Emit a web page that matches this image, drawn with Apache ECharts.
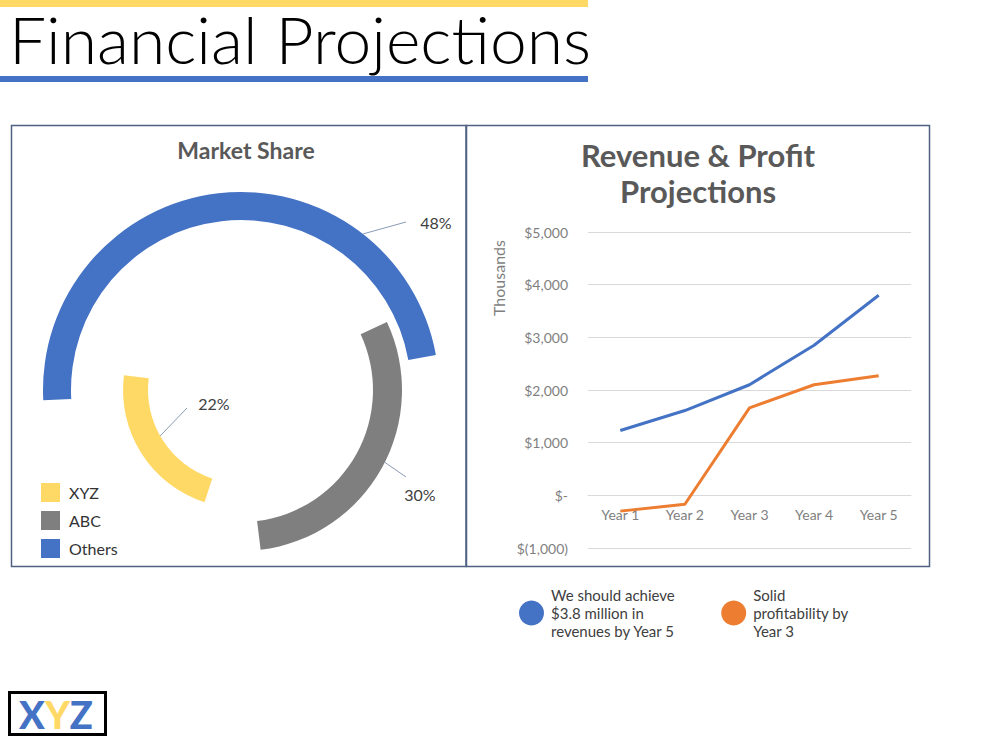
<!DOCTYPE html>
<html>
<head>
<meta charset="utf-8">
<title>Financial Projections</title>
<script src="https://cdn.jsdelivr.net/npm/echarts@6/dist/echarts.min.js"></script>
<style>
  html, body { margin: 0; padding: 0; background: #fff; }
  #main { width: 1000px; height: 750px; }
</style>
</head>
<body>
<div id="main"></div>
<script>
// market share, percent
const shareNames = ['XYZ', 'ABC', 'Others'];
const shareValues = [22, 30, 48];

// revenue & profit, $ thousands
const years = ['Year 1', 'Year 2', 'Year 3', 'Year 4', 'Year 5'];
const revenue = [1230, 1610, 2100, 2850, 3800];
const profit = [-300, -170, 1660, 2100, 2270];
const lineNames = ['Revenue', 'Profit'];
const lineNotes = [
  'We should achieve\n$3.8 million in\nrevenues by Year 5',
  'Solid\nprofitability by\nYear 3'
];
const yMin = -1000, yMax = 5000, yStep = 1000;

const shareColors = ['#FFD966', '#7F7F7F', '#4472C4'];
const lineColors = ['#4472C4', '#ED7D31'];
const font = 'Lato, "Open Sans", sans-serif';

// every share gets its own ring around the same centre
// pointAt: angle (deg) and edge radius where the leader line touches the ring
const pieCenter = [241, 390];
const rings = [
  {radius: [93, 118], startAngle: 252, labelAt: [214, 403], pointAt: [209.6, 93], lineEnd: [187, 408]},
  {radius: [132, 161], startAngle: 25, labelAt: [420, 494], pointAt: [-26.7, 161], lineEnd: [406, 477]},
  {radius: [170, 198], startAngle: 183, labelAt: [436, 222], pointAt: [52, 198], lineEnd: [406, 222]}
];

function money(v) {
  if (v === 0) return '$-';
  const s = Math.abs(v).toLocaleString('en-US');
  return v < 0 ? '$(' + s + ')' : '$' + s;
}

function ringLabel(ring) {
  const a = ring.pointAt[0] * Math.PI / 180;
  const p0 = [pieCenter[0] + ring.pointAt[1] * Math.cos(a), pieCenter[1] - ring.pointAt[1] * Math.sin(a)];
  return () => ({
    x: ring.labelAt[0], y: ring.labelAt[1], align: 'center', verticalAlign: 'middle',
    labelLinePoints: [p0, ring.lineEnd, ring.lineEnd]
  });
}

const pieSeries = shareNames.map((name, i) => ({
  type: 'pie',
  center: pieCenter,
  radius: rings[i].radius,
  startAngle: rings[i].startAngle,
  silent: true,
  avoidLabelOverlap: false,
  label: {formatter: '{c}%', fontSize: 16, color: '#404040', fontFamily: font},
  labelLine: {show: true, lineStyle: {color: '#8a9bb5', width: 1}},
  labelLayout: ringLabel(rings[i]),
  data: [
    {name: name, value: shareValues[i], itemStyle: {color: shareColors[i]}},
    {name: '', value: 100 - shareValues[i], itemStyle: {color: 'transparent'},
      label: {show: false}, labelLine: {show: false}}
  ]
}));

const lineSeries = [revenue, profit].map((vals, i) => ({
  name: lineNames[i],
  type: 'line',
  data: vals,
  symbol: 'none',
  silent: true,
  z: 3,
  lineStyle: {width: 3, color: lineColors[i]},
  itemStyle: {color: lineColors[i]}
}));

const gridTop = 232, gridBottom = 202, gridHeight = 750 - gridTop - gridBottom;

const chart = echarts.init(document.getElementById('main'), null, {renderer: 'svg'});

chart.setOption({
  animation: false,
  title: [
    {text: 'Financial Projections', left: 9, top: 4, padding: 0,
      textStyle: {fontFamily: font, fontWeight: 300, fontSize: 66, lineHeight: 68, color: '#000'}},
    {text: 'Market Share', left: 246, top: 138, textAlign: 'center', padding: 0,
      textStyle: {fontFamily: font, fontWeight: 'bold', fontSize: 23, color: '#595959'}},
    {text: 'Revenue & Profit\nProjections', left: 698, top: 137, textAlign: 'center', padding: 0,
      textStyle: {fontFamily: font, fontWeight: 'bold', fontSize: 31, lineHeight: 36, color: '#595959'}}
  ],
  legend: [
    {
      data: shareNames, orient: 'vertical', left: 36, top: 478,
      icon: 'rect', itemWidth: 19, itemHeight: 19, itemGap: 9,
      selectedMode: false,
      textStyle: {fontFamily: font, fontSize: 16, color: '#333', padding: [0, 0, 0, 4]}
    },
    {
      data: lineNames, orient: 'horizontal', left: 514, top: 581,
      icon: 'circle', itemWidth: 25, itemHeight: 25, itemGap: 46,
      selectedMode: false,
      formatter: name => lineNotes[lineNames.indexOf(name)],
      textStyle: {fontFamily: font, fontSize: 15, lineHeight: 18, color: '#404040', padding: [0, 0, 0, 2]}
    }
  ],
  grid: {left: 588, right: 89, top: gridTop, bottom: gridBottom},
  xAxis: {
    type: 'category', data: years,
    // sits on the $0 line, one step above the bottom
    offset: -gridHeight * (0 - yMin) / (yMax - yMin),
    axisLine: {onZero: false, lineStyle: {color: '#d9d9d9'}},
    axisTick: {show: false},
    axisLabel: {fontFamily: font, fontSize: 14, color: '#7f7f7f', margin: 12}
  },
  yAxis: {
    type: 'value', min: yMin, max: yMax, interval: yStep,
    axisLine: {show: false}, axisTick: {show: false},
    splitLine: {lineStyle: {color: '#d9d9d9', width: 1}},
    axisLabel: {fontFamily: font, fontSize: 14, color: '#7f7f7f', margin: 20, formatter: money}
  },
  graphic: [
    {type: 'rect', shape: {x: 0, y: 0, width: 588, height: 7}, style: {fill: '#FFD966'}},
    {type: 'rect', shape: {x: 0, y: 76, width: 588, height: 6}, style: {fill: '#4472C4'}},
    {type: 'rect', shape: {x: 11.5, y: 125.5, width: 454.5, height: 441},
      style: {fill: 'none', stroke: '#4f6180', lineWidth: 1.5}},
    {type: 'rect', shape: {x: 466.5, y: 125.5, width: 463, height: 441},
      style: {fill: 'none', stroke: '#4f6180', lineWidth: 1.5}},
    {type: 'text', x: 498, y: 278, rotation: Math.PI / 2,
      style: {text: 'Thousands', fill: '#7f7f7f', font: '16px ' + font, align: 'center', verticalAlign: 'middle'}},
    {type: 'rect', shape: {x: 9.5, y: 692.5, width: 96, height: 42},
      style: {fill: 'none', stroke: '#000', lineWidth: 3}},
    {type: 'text', x: 56, y: 714,
      style: {
        text: '{b|X}{y|Y}{b|Z}', align: 'center', verticalAlign: 'middle',
        rich: {
          b: {fill: '#4472C4', font: '900 38px ' + font},
          y: {fill: '#FFD966', font: '900 38px ' + font}
        }
      }}
  ],
  series: pieSeries.concat(lineSeries)
});
</script>
</body>
</html>
